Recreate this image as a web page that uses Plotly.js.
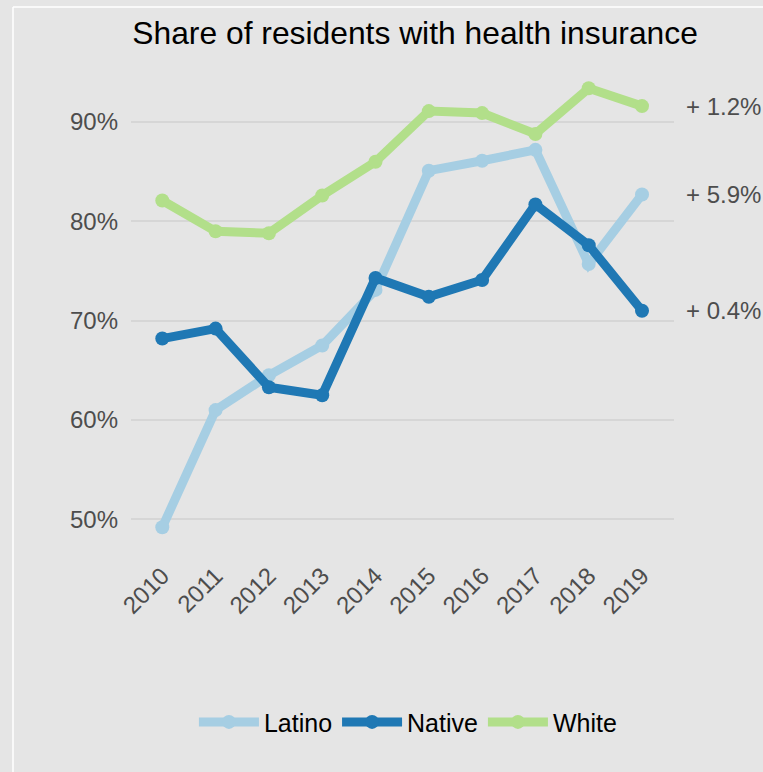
<!DOCTYPE html>
<html>
<head>
<meta charset="utf-8">
<script src="https://cdn.plot.ly/plotly-3.0.1.min.js"></script>
<style>
  html, body { margin: 0; padding: 0; background: #e5e5e5; }
  #chart { width: 763px; height: 772px; }
</style>
</head>
<body>
<div id="chart"></div>
<script>
const years = [2010, 2011, 2012, 2013, 2014, 2015, 2016, 2017, 2018, 2019];
const latino = [49.2, 61.0, 64.5, 67.5, 73.1, 85.1, 86.1, 87.2, 75.7, 82.7];
const native = [68.2, 69.2, 63.3, 62.5, 74.3, 72.4, 74.1, 81.7, 77.6, 71.0];
const white  = [82.1, 79.0, 78.8, 82.6, 86.0, 91.1, 90.9, 88.8, 93.4, 91.6];
const seriesNames = ["Latino", "Native", "White"];
const seriesColors = ["#a6cee3", "#1f78b4", "#b2df8a"];
const endLabels = ["+ 5.9%", "+ 0.4%", "+ 1.2%"];
const yTickVals = [50, 60, 70, 80, 90];
const yTickText = ["50%", "60%", "70%", "80%", "90%"];

const seriesData = [latino, native, white];
const traces = seriesData.map((vals, i) => ({
  x: years,
  y: vals,
  name: seriesNames[i],
  type: "scatter",
  mode: "lines+markers",
  line: { color: seriesColors[i], width: 9 },
  marker: { color: seriesColors[i], size: 14 },
  cliponaxis: false
}));

const annotations = seriesData.map((vals, i) => ({
  xref: "paper", yref: "y",
  x: 1.019, y: vals[vals.length - 1],
  xanchor: "left", yanchor: "middle",
  text: endLabels[i], showarrow: false,
  font: { size: 24, color: "#4d4d4d" }
}));

const layout = {
  width: 763, height: 772,
  margin: { l: 131, r: 89, t: 80, b: 232 },
  paper_bgcolor: "#e5e5e5",
  plot_bgcolor: "#e5e5e5",
  font: { family: "Liberation Sans, Arial, sans-serif", color: "#4d4d4d" },
  title: {
    text: "Share of residents with health insurance",
    font: { size: 31.8, color: "#000000" },
    xref: "container", x: 0.544, xanchor: "center",
    yref: "container", y: 0.958, yanchor: "middle"
  },
  xaxis: {
    range: [2009.413, 2019.6],
    tickvals: years,
    ticktext: years.map(String),
    tickangle: -45,
    showgrid: false, zeroline: false, showline: false,
    ticks: "",
    ticklabelstandoff: 16,
    tickfont: { size: 24, color: "#4d4d4d" }
  },
  yaxis: {
    range: [47.92, 94.23],
    tickvals: yTickVals,
    ticktext: yTickText,
    showgrid: true, gridcolor: "#d6d6d6", gridwidth: 2,
    zeroline: false, showline: false, ticks: "",
    ticklabelstandoff: 12,
    tickfont: { size: 24, color: "#4d4d4d" }
  },
  showlegend: true,
  legend: {
    orientation: "h",
    x: 0.51, xanchor: "center",
    y: -0.396, yanchor: "middle",
    font: { size: 25, color: "#000000" },
    bgcolor: "rgba(0,0,0,0)",
    itemwidth: 60
  },
  annotations: annotations,
  shapes: [
    { type: "line", xref: "paper", yref: "paper",
      x0: (13 - 131) / 543, x1: (763 - 131) / 543,
      y0: (540 - 7) / 460, y1: (540 - 7) / 460,
      line: { color: "#ffffff", width: 1.5 } },
    { type: "line", xref: "paper", yref: "paper",
      x0: (13 - 131) / 543, x1: (13 - 131) / 543,
      y0: (540 - 7) / 460, y1: (540 - 772) / 460,
      line: { color: "#ffffff", width: 1.5 } }
  ]
};

Plotly.newPlot("chart", traces, layout, { displayModeBar: false, staticPlot: true });
</script>
</body>
</html>
